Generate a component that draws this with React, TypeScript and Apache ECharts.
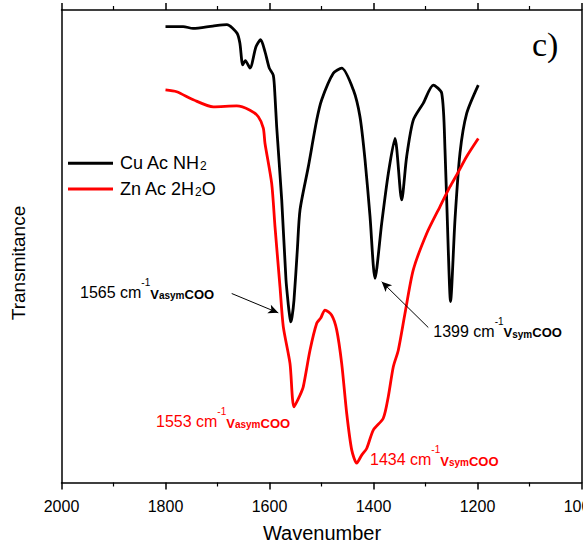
import React, { useEffect, useRef } from "react";
import * as echarts from "echarts";

// Cu Ac NH2 spectrum (black)
const cuWave = [1800, 1766, 1747, 1709, 1682, 1662.5, 1657, 1651.5, 1646.5, 1637.5, 1626, 1617, 1608.7, 1600.4, 1592.7, 1589.4, 1586.2, 1576.5, 1568.3, 1563.8, 1561.5, 1559.2, 1556.7, 1552.9, 1546.5, 1541.3, 1525.4, 1509.2, 1499.6, 1477.3, 1461.2, 1438.8, 1426, 1416.3, 1406.7, 1397.1, 1384.2, 1371.5, 1358.7, 1345.8, 1336.2, 1323.5, 1304.2, 1285, 1268.8, 1262.5, 1256.2, 1251.9, 1243.3, 1233.7, 1220.8, 1198.5];
const cuT = [96.5, 96.5, 96.1, 96.6, 96.9, 95.1, 93.0, 88.4, 89.3, 87.7, 92.2, 93.7, 91.2, 87.7, 86.2, 81.7, 75.3, 59.8, 42.9, 37.6, 35.5, 34.0, 35.0, 38.6, 49.2, 57.7, 66.8, 76.7, 81.0, 86.6, 87.7, 83.1, 77.4, 68.3, 56.3, 43.2, 54.9, 65.4, 72.8, 59.8, 69.0, 76.7, 80.3, 84.1, 82.4, 70.4, 49.2, 38.3, 55.6, 69.7, 78.1, 84.1];

// Zn Ac 2H2O spectrum (red)
const znWave = [1800, 1778.5, 1746.5, 1708, 1663.1, 1637.5, 1621.5, 1611.9, 1608.7, 1595.8, 1589.4, 1579.8, 1573.5, 1560.6, 1552.9, 1541.3, 1535, 1522.1, 1509.2, 1501.5, 1493.3, 1480.4, 1470.8, 1461.2, 1451.5, 1441.9, 1432.3, 1422.7, 1413.1, 1400.4, 1381.2, 1371.5, 1361.9, 1352.3, 1339.4, 1323.5, 1297.7, 1272.1, 1252.9, 1240, 1220.8, 1198.5];
const znT = [83.1, 82.7, 81.0, 79.5, 79.7, 78.8, 77.4, 75.0, 71.8, 63.3, 54.1, 41.4, 33.0, 25.2, 16.0, 18.5, 20.3, 28.0, 33.7, 34.8, 36.5, 35.4, 32.3, 25.2, 14.6, 6.9, 4.1, 5.8, 7.2, 11.1, 13.6, 18.2, 24.5, 28.0, 35.8, 45.0, 52.7, 58.4, 62.6, 65.1, 69.0, 72.8];

// annotation arrows: [fromWave, fromT, toWave, toT]
const arrow1565 = [1672.7, 40.0, 1583.1, 35.9];
const arrow1399 = [1294.6, 32.8, 1384.2, 42.5];

const xTickLabels = ["2000", "1800", "1600", "1400", "1200", "1000"];

const FONT = "'Liberation Sans', Arial, sans-serif";

function annotText(wn: string, mode: string) {
  return `{n|${wn} cm}{sup|-1}{b|V}{s|${mode}}{b|COO}`;
}
function annotRich(color: string) {
  return {
    n: { fontSize: 16, lineHeight: 23, verticalAlign: "bottom", fill: color, fontFamily: FONT },
    sup: { fontSize: 10, lineHeight: 10, verticalAlign: "top", fill: color, fontFamily: FONT },
    b: { fontSize: 13, lineHeight: 13, verticalAlign: "bottom", fontWeight: "bold", fill: color, fontFamily: FONT },
    s: { fontSize: 10, lineHeight: 10, verticalAlign: "bottom", fontWeight: "bold", fill: color, fontFamily: FONT },
  };
}
const legendRich = {
  n: { fontSize: 18, lineHeight: 18, verticalAlign: "bottom", fill: "#000", fontFamily: FONT },
  s: { fontSize: 12, lineHeight: 12, verticalAlign: "bottom", fill: "#000", fontFamily: FONT },
};

export default function App() {
  const ref = useRef<HTMLDivElement>(null);
  useEffect(() => {
    if (!ref.current) return;
    const chart = echarts.init(ref.current, null, { renderer: "svg" });
    const axisLineStyle = { color: "#000", width: 1.5 };
    const xCommon = {
      type: "value",
      min: 1000,
      max: 2000,
      interval: 200,
      inverse: true,
      axisLine: { show: true, onZero: false, lineStyle: axisLineStyle },
      axisTick: { show: true, inside: false, length: 7, lineStyle: axisLineStyle },
      minorTick: { show: true, splitNumber: 2, length: 4, lineStyle: { color: "#000", width: 1.2 } },
      splitLine: { show: false },
    };
    chart.setOption({
      animation: false,
      backgroundColor: "#fff",
      grid: { left: 61.5, right: 1.5, top: 10, bottom: 65.5, outerBoundsMode: "none", containLabel: false },
      xAxis: [
        {
          ...xCommon,
          position: "bottom",
          axisLabel: {
            color: "#000",
            fontSize: 16,
            fontFamily: FONT,
            margin: 16,
            showMinLabel: true,
            showMaxLabel: true,
            formatter: (v: number) => xTickLabels.find((t) => Number(t) === v) ?? "",
          },
        },
        { ...xCommon, position: "top", axisLabel: { show: false } },
      ],
      yAxis: [
        {
          type: "value", min: 0, max: 100, position: "left",
          axisLine: { show: true, onZero: false, lineStyle: axisLineStyle },
          axisTick: { show: false }, axisLabel: { show: false }, splitLine: { show: false },
        },
        {
          type: "value", min: 0, max: 100, position: "right",
          axisLine: { show: true, onZero: false, lineStyle: axisLineStyle },
          axisTick: { show: false }, axisLabel: { show: false }, splitLine: { show: false },
        },
      ],
      series: [
        {
          name: "Cu Ac NH2",
          type: "line",
          data: cuWave.map((w, i) => [w, cuT[i]]),
          showSymbol: false,
          symbol: "none",
          smooth: 0.25,
          lineStyle: { color: "#000", width: 2.8, join: "round" },
          z: 2,
          markLine: {
            silent: true,
            symbol: ["none", "arrow"],
            symbolSize: [7, 10],
            label: { show: false },
            lineStyle: { color: "#000", width: 1, type: "solid" },
            data: [
              [{ coord: [arrow1565[0], arrow1565[1]] }, { coord: [arrow1565[2], arrow1565[3]] }],
              [{ coord: [arrow1399[0], arrow1399[1]] }, { coord: [arrow1399[2], arrow1399[3]] }],
            ],
          },
        },
        {
          name: "Zn Ac 2H2O",
          type: "line",
          data: znWave.map((w, i) => [w, znT[i]]),
          showSymbol: false,
          symbol: "none",
          smooth: 0.25,
          lineStyle: { color: "#ff0000", width: 2.8, join: "round" },
          z: 3,
        },
      ],
      graphic: [
        { type: "line", shape: { x1: 68, y1: 163.3, x2: 113, y2: 163.3 }, style: { stroke: "#000", lineWidth: 3 } },
        { type: "line", shape: { x1: 68, y1: 189, x2: 113, y2: 189 }, style: { stroke: "#ff0000", lineWidth: 3 } },
        { type: "text", x: 120, y: 172.3, style: { text: "{n|Cu Ac NH}{s|2}", rich: legendRich, align: "left", verticalAlign: "bottom" } },
        { type: "text", x: 120, y: 198, style: { text: "{n|Zn Ac 2H}{s|2}{n|O}", rich: legendRich, align: "left", verticalAlign: "bottom" } },
        { type: "text", x: 532, y: 44, style: { text: "c)", fontSize: 34, fontFamily: "'Liberation Serif', 'Times New Roman', serif", fill: "#000", align: "left", verticalAlign: "middle" } },
        { type: "text", x: 80, y: 300.5, style: { text: annotText("1565", "asym"), rich: annotRich("#000"), align: "left", verticalAlign: "bottom" } },
        { type: "text", x: 433.3, y: 339.3, style: { text: annotText("1399", "sym"), rich: annotRich("#000"), align: "left", verticalAlign: "bottom" } },
        { type: "text", x: 156, y: 429.5, style: { text: annotText("1553", "asym"), rich: annotRich("#ff0000"), align: "left", verticalAlign: "bottom" } },
        { type: "text", x: 370, y: 467.7, style: { text: annotText("1434", "sym"), rich: annotRich("#ff0000"), align: "left", verticalAlign: "bottom" } },
        { type: "text", x: 322, y: 533, style: { text: "Wavenumber", fontSize: 20, fontFamily: FONT, fill: "#000", align: "center", verticalAlign: "middle" } },
        { type: "text", x: 18, y: 263, rotation: Math.PI / 2, style: { text: "Transmitance", fontSize: 19, fontFamily: FONT, fill: "#000", align: "center", verticalAlign: "middle" } },
      ],
    });
    return () => chart.dispose();
  }, []);
  return (
    <div
      ref={ref}
      style={{ position: "fixed", left: 0, top: 0, width: 583, height: 548, background: "#fff" }}
    />
  );
}
